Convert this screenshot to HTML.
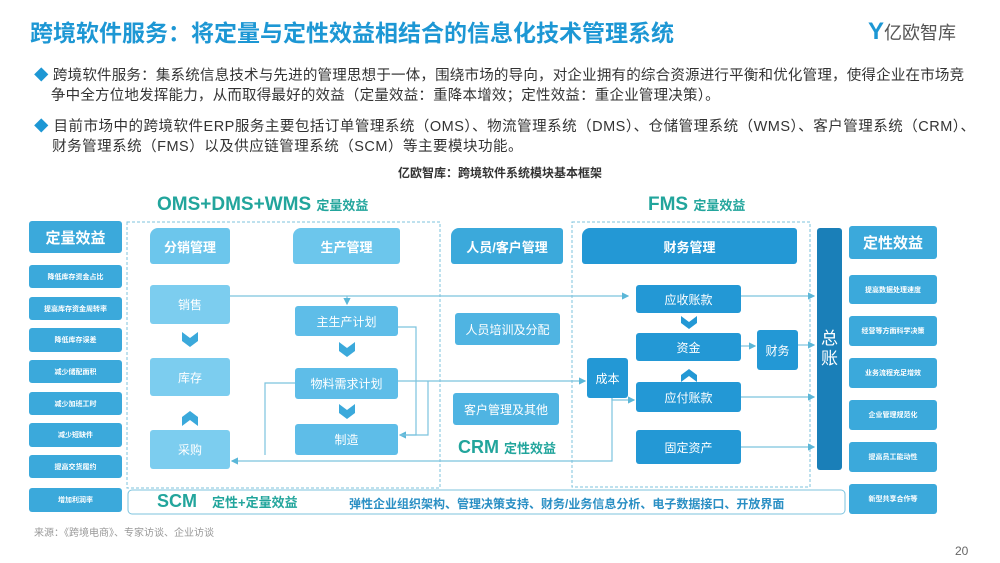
<!DOCTYPE html>
<html><head><meta charset="utf-8"><style>
*{margin:0;padding:0;box-sizing:border-box}
body{width:1000px;height:563px;background:#fff;position:relative;overflow:hidden;font-family:"Liberation Sans","Noto Sans CJK SC",sans-serif}
.a{position:absolute}
.b{position:absolute;display:flex;align-items:center;justify-content:center;color:#fff;text-align:center;border-radius:3px}
.lc{background:#3ba9db;font-size:7px;font-weight:bold}
.hd{background:#3ba9db;font-size:13px;font-weight:bold;border-radius:8px 3px 3px 3px}
.lt{background:#7ccdef;font-size:12px}
.fm{background:#2398d5;font-size:12px}
.t{color:#333;font-size:14.5px;line-height:20px;white-space:nowrap;letter-spacing:0.2px}
.g{color:#22a59c;font-weight:bold}
</style></head><body>
<div class="a" style="left:30px;top:14px;font-size:23px;font-weight:bold;color:#1d97d4;white-space:nowrap">跨境软件服务：将定量与定性效益相结合的信息化技术管理系统</div>
<div class="a" style="left:868px;top:18px;font-size:18px;color:#555"><span style="color:#1d97d4;font-weight:bold;font-size:24px">Y</span>亿欧智库</div>
<div class="a t" style="left:34px;top:66px"><span style="color:#1d97d4">◆</span> 跨境软件服务：集系统信息技术与先进的管理思想于一体，围绕市场的导向，对企业拥有的综合资源进行平衡和优化管理，使得企业在市场竞<br>&nbsp;&nbsp;&nbsp;&nbsp;争中全方位地发挥能力，从而取得最好的效益（定量效益：重降本增效；定性效益：重企业管理决策）。</div>
<div class="a t" style="left:34px;top:117px;letter-spacing:0.5px"><span style="color:#1d97d4">◆</span> 目前市场中的跨境软件ERP服务主要包括订单管理系统（OMS）、物流管理系统（DMS）、仓储管理系统（WMS）、客户管理系统（CRM）、<br>&nbsp;&nbsp;&nbsp;&nbsp;财务管理系统（FMS）以及供应链管理系统（SCM）等主要模块功能。</div>
<div class="a" style="left:0;width:1000px;top:164px;text-align:center;font-size:12px;font-weight:bold;color:#333">亿欧智库：跨境软件系统模块基本框架</div>

<div class="a g" style="left:157px;top:194px;font-size:19px">OMS+DMS+WMS <span style="font-size:13px">定量效益</span></div>
<div class="a g" style="left:648px;top:194px;font-size:19px">FMS <span style="font-size:13px">定量效益</span></div>

<svg class="a" style="left:0;top:0" width="1000" height="563">
<defs><marker id="m" markerWidth="6" markerHeight="6" refX="5" refY="3" orient="auto"><path d="M0,0L6,3L0,6z" fill="#5bb7d8"/></marker></defs>
<rect x="127" y="222" width="313" height="266" fill="none" stroke="#7cc3de" stroke-dasharray="3,2"/>
<rect x="572" y="222" width="238" height="265" fill="none" stroke="#7cc3de" stroke-dasharray="3,2"/>
<rect x="128" y="490" width="717" height="24" rx="4" fill="none" stroke="#7cc3de"/>
<g stroke="#7cc3de" stroke-width="1.2" fill="none">
<path d="M230 296H628" marker-end="url(#m)"/>
<path d="M347 296V304" marker-end="url(#m)"/>
<path d="M398 327H416V435H400" marker-end="url(#m)"/>
<path d="M398 381H585" marker-end="url(#m)"/>
<path d="M428 381V435H400"/>
<path d="M295 383H265V455"/>
<path d="M612 398V461H232" marker-end="url(#m)"/>
<path d="M612 398V400H634" marker-end="url(#m)"/>
<path d="M741 296H814" marker-end="url(#m)"/>
<path d="M741 346H755" marker-end="url(#m)"/>
<path d="M798 345H814" marker-end="url(#m)"/>
<path d="M741 397H814" marker-end="url(#m)"/>
<path d="M741 447H814" marker-end="url(#m)"/>
</g>
<g fill="#3ba9db">
<path d="M182 332l8 6 8-6v9l-8 6-8-6z"/>
<path d="M182 417l8-6 8 6v9l-8-6-8 6z"/>
<path d="M339 342l8 6 8-6v9l-8 6-8-6z"/>
<path d="M339 404l8 6 8-6v9l-8 6-8-6z"/>
<path d="M681 316l8 6 8-6v7l-8 6-8-6z" fill="#2398d5"/>
<path d="M681 375l8-6 8 6v7l-8-6-8 6z" fill="#2398d5"/>
</g>
</svg>

<div class="b hd" style="left:29px;top:221px;width:93px;height:32px;font-size:15px;border-radius:3px">定量效益</div>
<div class="b lc" style="left:29px;top:265px;width:93px;height:23px">降低库存资金占比</div>
<div class="b lc" style="left:29px;top:297px;width:93px;height:23px">提高库存资金周转率</div>
<div class="b lc" style="left:29px;top:328px;width:93px;height:24px">降低库存误差</div>
<div class="b lc" style="left:29px;top:360px;width:93px;height:23px">减少储配面积</div>
<div class="b lc" style="left:29px;top:392px;width:93px;height:23px">减少加班工时</div>
<div class="b lc" style="left:29px;top:423px;width:93px;height:24px">减少短缺件</div>
<div class="b lc" style="left:29px;top:455px;width:93px;height:23px">提高交货履约</div>
<div class="b lc" style="left:29px;top:488px;width:93px;height:24px">增加利润率</div>

<div class="b hd" style="left:150px;top:228px;width:80px;height:36px;background:#6cc6ec">分销管理</div>
<div class="b hd" style="left:293px;top:228px;width:107px;height:36px;background:#6cc6ec">生产管理</div>
<div class="b lt" style="left:150px;top:285px;width:80px;height:39px">销售</div>
<div class="b lt" style="left:150px;top:358px;width:80px;height:38px">库存</div>
<div class="b lt" style="left:150px;top:430px;width:80px;height:39px">采购</div>
<div class="b lt" style="left:295px;top:306px;width:103px;height:30px;background:#5ebde8">主生产计划</div>
<div class="b lt" style="left:295px;top:368px;width:103px;height:31px;background:#5ebde8">物料需求计划</div>
<div class="b lt" style="left:295px;top:424px;width:103px;height:31px;background:#5ebde8">制造</div>

<div class="b hd" style="left:451px;top:228px;width:112px;height:36px">人员/客户管理</div>
<div class="b lt" style="left:455px;top:313px;width:105px;height:32px;background:#4fb4e2">人员培训及分配</div>
<div class="b lt" style="left:453px;top:393px;width:106px;height:32px;background:#4fb4e2">客户管理及其他</div>
<div class="a g" style="left:458px;top:437px;font-size:18px">CRM <span style="font-size:13px">定性效益</span></div>

<div class="b hd" style="left:582px;top:228px;width:215px;height:36px;background:#2398d5">财务管理</div>
<div class="b fm" style="left:636px;top:285px;width:105px;height:28px">应收账款</div>
<div class="b fm" style="left:636px;top:333px;width:105px;height:28px">资金</div>
<div class="b fm" style="left:636px;top:382px;width:105px;height:30px">应付账款</div>
<div class="b fm" style="left:636px;top:430px;width:105px;height:34px">固定资产</div>
<div class="b fm" style="left:587px;top:358px;width:41px;height:40px">成本</div>
<div class="b fm" style="left:757px;top:330px;width:41px;height:40px">财务</div>
<div class="b" style="left:817px;top:228px;width:25px;height:242px;background:#1a7fb8;font-size:17px;line-height:20px">总<br>账</div>

<div class="b hd" style="left:849px;top:226px;width:88px;height:33px;font-size:15px;border-radius:3px">定性效益</div>
<div class="b lc" style="left:849px;top:275px;width:88px;height:29px">提高数据处理速度</div>
<div class="b lc" style="left:849px;top:316px;width:88px;height:30px">经营等方面科学决策</div>
<div class="b lc" style="left:849px;top:358px;width:88px;height:30px">业务流程充足增效</div>
<div class="b lc" style="left:849px;top:400px;width:88px;height:30px">企业管理规范化</div>
<div class="b lc" style="left:849px;top:442px;width:88px;height:30px">提高员工能动性</div>
<div class="b lc" style="left:849px;top:484px;width:88px;height:30px">新型共享合作等</div>

<div class="a g" style="left:157px;top:491px;font-size:18px">SCM <span style="font-size:13px;margin-left:10px">定性+定量效益</span></div>
<div class="a" style="left:349px;top:495px;font-size:12px;font-weight:bold;color:#2a8fc4">弹性企业组织架构、管理决策支持、财务/业务信息分析、电子数据接口、开放界面</div>

<div class="a" style="left:34px;top:524px;font-size:10px;color:#999">来源：《跨境电商》、专家访谈、企业访谈</div>
<div class="a" style="left:955px;top:544px;font-size:12px;color:#666">20</div>
</body></html>
